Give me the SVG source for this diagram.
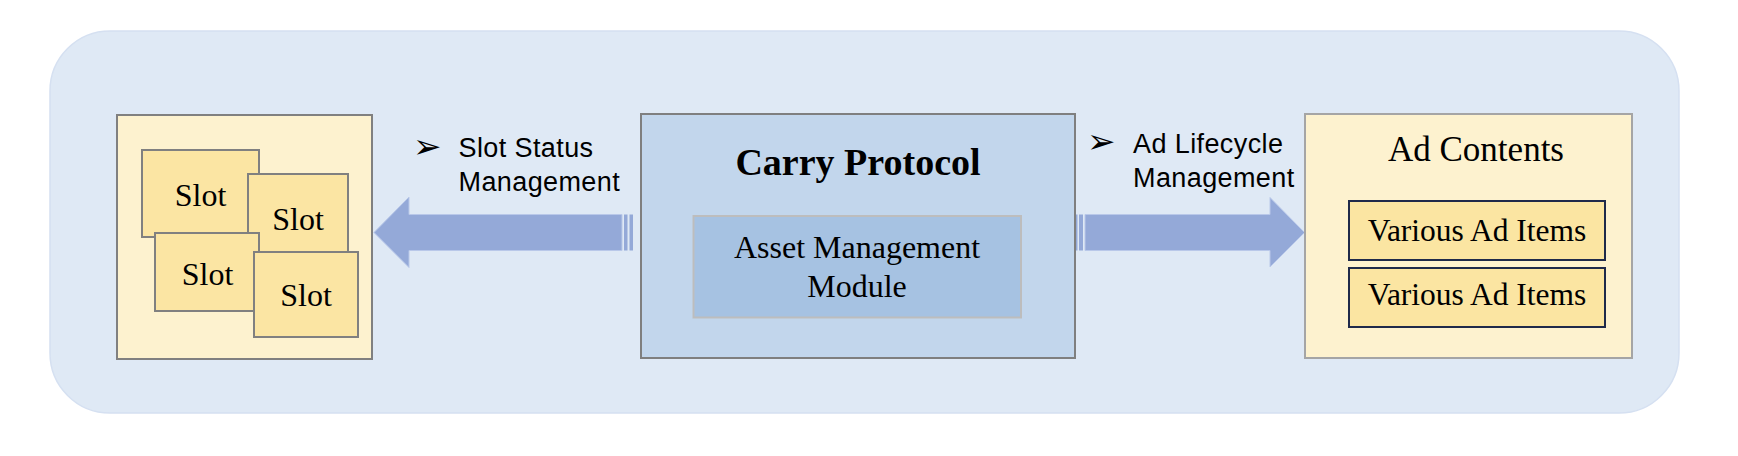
<svg xmlns="http://www.w3.org/2000/svg" width="1738" height="456" viewBox="0 0 1738 456">
  <style>
    .serif { font-family: "Liberation Serif", "Times New Roman", serif; fill: #000; }
    .sans { font-family: "Liberation Sans", Arial, sans-serif; fill: #000; font-size: 27px; letter-spacing: 0.4px; }
    .bullet { font-family: "DejaVu Sans", sans-serif; fill: #000; font-size: 34px; }
    .slot { fill: #FBE5A3; stroke: #808080; stroke-width: 2; }
    .item { fill: #FBE5A2; stroke: #1F2A4A; stroke-width: 2; }
    .arrow { fill: #94A9D8; stroke: #B9C8E9; stroke-width: 1; }
    .stripe { fill: #94A9D8; }
  </style>
  <rect width="1738" height="456" fill="#FFFFFF"/>
  <g id="background">
    <rect x="50" y="31" width="1629" height="382" rx="60" ry="60" fill="#DFE9F5" stroke="#D5E0F1" stroke-width="1.5"/>
  </g>
  <g id="connectors">
    <g id="arrow-left">
      <polygon class="arrow" points="374,232.5 409,197 409,214.5 622,214.5 622,250.5 409,250.5 409,267.5"/>
      <rect class="stripe" x="624" y="214.5" width="3.5" height="36"/>
      <rect class="stripe" x="629.5" y="214.5" width="3.5" height="36"/>
    </g>
    <g id="arrow-right">
      <rect class="stripe" x="1076" y="214.5" width="1.5" height="36"/>
      <rect class="stripe" x="1079" y="214.5" width="4" height="36"/>
      <polygon class="arrow" points="1085,214.5 1270,214.5 1270,197.5 1304.5,232.5 1270,267 1270,250.5 1085,250.5"/>
    </g>
    <g id="label-left">
      <text class="bullet" x="413" y="158">➢</text>
      <text class="sans" x="458.5" y="156.5">Slot Status</text>
      <text class="sans" x="458.5" y="191">Management</text>
    </g>
    <g id="label-right">
      <text class="bullet" x="1087" y="153">➢</text>
      <text class="sans" x="1133" y="152.5">Ad Lifecycle</text>
      <text class="sans" x="1133" y="187">Management</text>
    </g>
  </g>
  <g id="slots-panel">
    <rect x="117" y="115" width="255" height="244" fill="#FDF2CF" stroke="#808080" stroke-width="2"/>
    <g id="slot-1">
      <rect class="slot" x="142" y="150" width="117" height="87"/>
      <text class="serif" x="200.5" y="205.5" font-size="32" text-anchor="middle">Slot</text>
    </g>
    <g id="slot-2">
      <rect class="slot" x="248" y="174" width="100" height="87"/>
      <text class="serif" x="298" y="229.5" font-size="32" text-anchor="middle">Slot</text>
    </g>
    <g id="slot-3">
      <rect class="slot" x="155" y="233" width="104" height="78"/>
      <text class="serif" x="207.5" y="284.5" font-size="32" text-anchor="middle">Slot</text>
    </g>
    <g id="slot-4">
      <rect class="slot" x="254" y="252" width="104" height="85"/>
      <text class="serif" x="306" y="305.5" font-size="32" text-anchor="middle">Slot</text>
    </g>
  </g>
  <g id="carry-protocol">
    <rect x="641" y="114" width="434" height="244" fill="#C2D6EC" stroke="#7F7F7F" stroke-width="2"/>
    <text class="serif" x="858" y="175" font-size="38" font-weight="bold" text-anchor="middle">Carry Protocol</text>
    <g id="asset-management-module">
      <rect x="693.5" y="216" width="327.5" height="101.5" fill="#A6C2E2" stroke="#BDBDBD" stroke-width="2"/>
      <text class="serif" x="857" y="258" font-size="32" text-anchor="middle">Asset Management</text>
      <text class="serif" x="857" y="296.5" font-size="32" text-anchor="middle">Module</text>
    </g>
  </g>
  <g id="ad-contents">
    <rect x="1305" y="114" width="327" height="244" fill="#FDF2CF" stroke="#A5A5A5" stroke-width="2"/>
    <text class="serif" x="1476" y="160.5" font-size="35" text-anchor="middle">Ad Contents</text>
    <g id="ad-item-1">
      <rect class="item" x="1349" y="201" width="256" height="59"/>
      <text class="serif" x="1477" y="240.5" font-size="31.5" text-anchor="middle">Various Ad Items</text>
    </g>
    <g id="ad-item-2">
      <rect class="item" x="1349" y="268" width="256" height="59"/>
      <text class="serif" x="1477" y="304.5" font-size="31.5" text-anchor="middle">Various Ad Items</text>
    </g>
  </g>
</svg>
